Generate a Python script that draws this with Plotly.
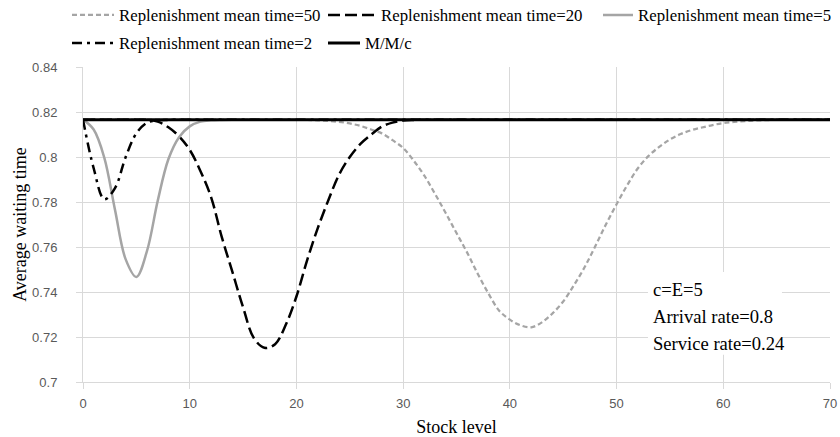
import plotly.graph_objects as go

# ---------------- data ----------------
STOCK = list(range(0, 71))

MT50 = [0.8166, 0.8166, 0.8166, 0.8166, 0.8166, 0.8166, 0.8166, 0.8166, 0.8166, 0.8166,
        0.8166, 0.8166, 0.8166, 0.8166, 0.8166, 0.8166, 0.8166, 0.8166, 0.8166, 0.8166,
        0.8166, 0.8165, 0.8163, 0.8160, 0.8156, 0.8149, 0.8138, 0.8122, 0.8105, 0.8075,
        0.8040, 0.7983, 0.7916, 0.7835, 0.7750, 0.7662, 0.7575, 0.7480, 0.7393, 0.7317,
        0.7277, 0.7252, 0.7243, 0.7265, 0.7305, 0.7358, 0.7430, 0.7510, 0.7603, 0.7700,
        0.7790, 0.7875, 0.7950, 0.8005, 0.8045, 0.8078, 0.8102, 0.8119, 0.8131, 0.8142,
        0.8151, 0.8156, 0.8159, 0.8162, 0.8164, 0.8165, 0.8166, 0.8166, 0.8166, 0.8166,
        0.8166]

MT20 = [0.8166, 0.8166, 0.8166, 0.8166, 0.8166, 0.8166, 0.8165, 0.8157, 0.8132, 0.8092,
        0.8032, 0.7938, 0.7822, 0.7645, 0.7489, 0.7332, 0.7196, 0.7152, 0.7168, 0.7254,
        0.7380, 0.7541, 0.7684, 0.7809, 0.7922, 0.8000, 0.8058, 0.8099, 0.8135, 0.8153,
        0.8162, 0.8165, 0.8166, 0.8166, 0.8166, 0.8166, 0.8166, 0.8166, 0.8166, 0.8166,
        0.8166, 0.8166, 0.8166, 0.8166, 0.8166, 0.8166, 0.8166, 0.8166, 0.8166, 0.8166,
        0.8166, 0.8166, 0.8166, 0.8166, 0.8166, 0.8166, 0.8166, 0.8166, 0.8166, 0.8166,
        0.8166, 0.8166, 0.8166, 0.8166, 0.8166, 0.8166, 0.8166, 0.8166, 0.8166, 0.8166,
        0.8166]

MT5 = [0.8166, 0.8122, 0.7996, 0.7765, 0.7545, 0.7467, 0.7583, 0.7805, 0.7990, 0.8088,
       0.8136, 0.8157, 0.8163, 0.8165, 0.8166, 0.8166, 0.8166, 0.8166, 0.8166, 0.8166,
       0.8166, 0.8166, 0.8166, 0.8166, 0.8166, 0.8166, 0.8166, 0.8166, 0.8166, 0.8166,
       0.8166, 0.8166, 0.8166, 0.8166, 0.8166, 0.8166, 0.8166, 0.8166, 0.8166, 0.8166,
       0.8166, 0.8166, 0.8166, 0.8166, 0.8166, 0.8166, 0.8166, 0.8166, 0.8166, 0.8166,
       0.8166, 0.8166, 0.8166, 0.8166, 0.8166, 0.8166, 0.8166, 0.8166, 0.8166, 0.8166,
       0.8166, 0.8166, 0.8166, 0.8166, 0.8166, 0.8166, 0.8166, 0.8166, 0.8166, 0.8166,
       0.8166]

MT2 = [0.8166, 0.7950, 0.7812, 0.7862, 0.8000, 0.8105, 0.8152, 0.8163, 0.8165, 0.8166,
       0.8166, 0.8166, 0.8166, 0.8166, 0.8166, 0.8166, 0.8166, 0.8166, 0.8166, 0.8166,
       0.8166, 0.8166, 0.8166, 0.8166, 0.8166, 0.8166, 0.8166, 0.8166, 0.8166, 0.8166,
       0.8166, 0.8166, 0.8166, 0.8166, 0.8166, 0.8166, 0.8166, 0.8166, 0.8166, 0.8166,
       0.8166, 0.8166, 0.8166, 0.8166, 0.8166, 0.8166, 0.8166, 0.8166, 0.8166, 0.8166,
       0.8166, 0.8166, 0.8166, 0.8166, 0.8166, 0.8166, 0.8166, 0.8166, 0.8166, 0.8166,
       0.8166, 0.8166, 0.8166, 0.8166, 0.8166, 0.8166, 0.8166, 0.8166, 0.8166, 0.8166,
       0.8166]

MMC = [0.8166, 0.8166, 0.8166, 0.8166, 0.8166, 0.8166, 0.8166, 0.8166, 0.8166, 0.8166,
       0.8166, 0.8166, 0.8166, 0.8166, 0.8166, 0.8166, 0.8166, 0.8166, 0.8166, 0.8166,
       0.8166, 0.8166, 0.8166, 0.8166, 0.8166, 0.8166, 0.8166, 0.8166, 0.8166, 0.8166,
       0.8166, 0.8166, 0.8166, 0.8166, 0.8166, 0.8166, 0.8166, 0.8166, 0.8166, 0.8166,
       0.8166, 0.8166, 0.8166, 0.8166, 0.8166, 0.8166, 0.8166, 0.8166, 0.8166, 0.8166,
       0.8166, 0.8166, 0.8166, 0.8166, 0.8166, 0.8166, 0.8166, 0.8166, 0.8166, 0.8166,
       0.8166, 0.8166, 0.8166, 0.8166, 0.8166, 0.8166, 0.8166, 0.8166, 0.8166, 0.8166,
       0.8166]

SERIES_NAMES = ["Replenishment mean time=50", "Replenishment mean time=20",
                "Replenishment mean time=5", "Replenishment mean time=2", "M/M/c"]

X_TICKS = [0, 10, 20, 30, 40, 50, 60, 70]
Y_TICKS = [0.70, 0.72, 0.74, 0.76, 0.78, 0.80, 0.82, 0.84]
Y_TICK_TEXT = ["0.7", "0.72", "0.74", "0.76", "0.78", "0.8", "0.82", "0.84"]

X_TITLE = "Stock level"
Y_TITLE = "Average waiting time"
NOTE_LINES = ["c=E=5", "Arrival rate=0.8", "Service rate=0.24"]

# ---------------- styling ----------------
SERIF = "Liberation Serif"
SANS = "Liberation Sans"
GRID = "#d9d9d9"
GRAY = "#a5a5a5"

W, H = 840, 437

fig = go.Figure()

styles = [
    dict(color=GRAY, width=2.25, dash="5px,3px"),
    dict(color="black", width=2.5, dash="12px,5px"),
    dict(color=GRAY, width=2.5, dash="solid"),
    dict(color="black", width=2.5, dash="10px,5px,3px,5px"),
    dict(color="black", width=3, dash="solid"),
]
legend_ids = ["legend", "legend2", "legend3", "legend4", "legend5"]
values = [MT50, MT20, MT5, MT2, MMC]

for name, vals, st, lg in zip(SERIES_NAMES, values, styles, legend_ids):
    fig.add_trace(go.Scatter(
        x=STOCK, y=vals, name=name, mode="lines",
        line=dict(shape="spline", smoothing=1.0, **st),
        legend=lg, showlegend=True, hoverinfo="skip",
    ))


def leg(left_px, center_px, itemwidth):
    return dict(
        xref="container", yref="container",
        x=left_px / W, y=1 - center_px / H,
        xanchor="left", yanchor="middle",
        orientation="h", bgcolor="rgba(0,0,0,0)", borderwidth=0,
        itemwidth=itemwidth, visible=True,
        font=dict(family=SERIF, size=16.8, color="black"),
    )


annotations = []
note_y = [0.2947, 0.2079, 0.1236]
for txt, yy in zip(NOTE_LINES, note_y):
    annotations.append(dict(
        text=txt, xref="paper", yref="paper", x=0.761, y=yy,
        xanchor="left", yanchor="middle", showarrow=False,
        font=dict(family=SERIF, size=18.6, color="black"),
    ))

fig.update_layout(
    width=W, height=H,
    showlegend=True,
    paper_bgcolor="white", plot_bgcolor="white",
    margin=dict(l=83, r=10, t=67, b=55, autoexpand=False),
    legend=leg(67, 15, 42),
    legend2=leg(323, 15, 48),
    legend3=leg(598, 15, 30),
    legend4=leg(67, 43, 42),
    legend5=leg(323, 43, 32),
    xaxis=dict(
        range=[0, 70], tickvals=X_TICKS, ticks="outside", ticklen=6,
        tickcolor=GRID, showline=True, linecolor=GRID, linewidth=1,
        showgrid=True, gridcolor=GRID, gridwidth=1, zeroline=False,
        tickfont=dict(family=SANS, size=13, color="#595959"),
        ticklabelstandoff=3,
        title=dict(text=X_TITLE, font=dict(family=SERIF, size=18, color="black"), standoff=14),
    ),
    yaxis=dict(
        range=[0.7, 0.84], tickvals=Y_TICKS, ticktext=Y_TICK_TEXT, ticks="outside", ticklen=6,
        tickcolor=GRID, showline=True, linecolor=GRID, linewidth=1,
        showgrid=True, gridcolor=GRID, gridwidth=1, zeroline=False,
        tickfont=dict(family=SANS, size=13, color="#595959"),
        ticklabelstandoff=16,
        title=dict(text=Y_TITLE, font=dict(family=SERIF, size=18, color="black"), standoff=0),
    ),
    shapes=[dict(type="rect", xref="paper", yref="paper",
                 x0=0.7563, x1=0.9357, y0=0.0865, y1=0.3495,
                 fillcolor="white", line=dict(width=0), layer="above")],
    annotations=annotations,
)

# remove the default 8px page margin so the figure fills the 840x437 window exactly
fig.write_html("out.html",
               config={"displayModeBar": False},
               post_script="document.body.style.margin='0px';document.body.style.overflow='hidden';")
